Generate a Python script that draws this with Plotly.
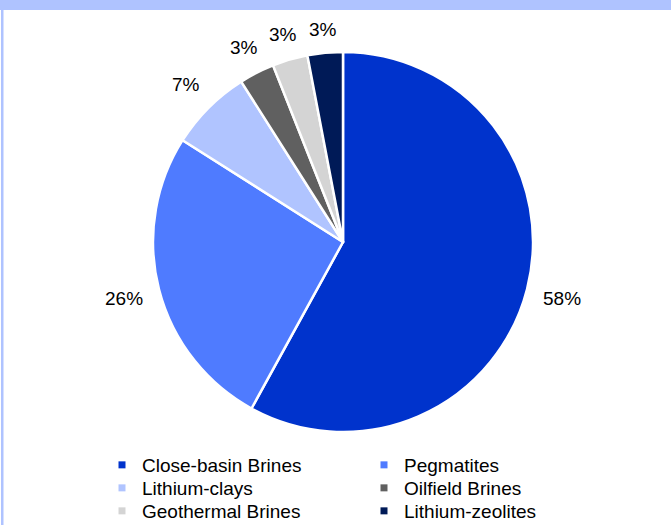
import math
import plotly.graph_objects as go

# Lithium resource split by deposit type
categories = ["Close-basin Brines", "Pegmatites", "Lithium-clays",
              "Oilfield Brines", "Geothermal Brines", "Lithium-zeolites"]
shares = [58, 26, 7, 3, 3, 3]
colors = ["#0033CC", "#4F7BFF", "#B0C4FF", "#606060", "#D4D4D4", "#001A57"]

W, H = 671, 525
FONT = "Liberation Sans, Arial, sans-serif"

# pie placement (paper fractions)
dom_x = [153 / W, 533 / W]
dom_y = [1 - 432 / H, 1 - 52 / H]

fig = go.Figure()

fig.add_trace(go.Pie(
    labels=categories,
    values=shares,
    sort=False,
    direction="clockwise",
    rotation=0,
    marker=dict(colors=colors, line=dict(color="white", width=2.5)),
    textinfo="none",
    showlegend=False,
    domain=dict(x=dom_x, y=dom_y),
    hoverinfo="label+percent",
))

# Percent labels placed radially outside each slice at its mid-angle
cx = (dom_x[0] + dom_x[1]) / 2 * W
cy = (1 - (dom_y[0] + dom_y[1]) / 2) * H
radius = min((dom_x[1] - dom_x[0]) * W, (dom_y[1] - dom_y[0]) * H) / 2
total = sum(shares)
cum = 0.0
annotations = []
for v in shares:
    mid = (cum + v / 2) / total * 2 * math.pi
    cum += v
    s, c = math.sin(mid), math.cos(mid)
    d = radius + 22 + 15 * abs(s)
    annotations.append(dict(
        x=(cx + d * s) / W, y=1 - (cy - d * c) / H,
        xref="paper", yref="paper", xanchor="center", yanchor="middle",
        text=f"{round(100 * v / total)}%", showarrow=False,
        font=dict(family=FONT, size=19, color="black"),
    ))

# Legend entries with small square swatches, two per row
legend_rows = ["legend", "legend2", "legend3"]
for i, (name, col) in enumerate(zip(categories, colors)):
    fig.add_trace(go.Scatter(
        x=[None], y=[None], mode="markers", name=name,
        marker=dict(symbol="square", size=7, color=col),
        legend=legend_rows[i // 2],
    ))

row_centers = [465, 488, 511]
legend_style = dict(
    orientation="h",
    x=(122 - 20) / W, xanchor="left", yanchor="middle",
    entrywidth=217, entrywidthmode="pixels",
    font=dict(family=FONT, size=19, color="black"),
    bgcolor="rgba(0,0,0,0)",
    traceorder="normal",
    itemclick=False, itemdoubleclick=False,
)

fig.update_layout(
    width=W, height=H,
    margin=dict(l=0, r=0, t=0, b=0, autoexpand=False),
    paper_bgcolor="white",
    plot_bgcolor="white",
    xaxis=dict(visible=False),
    yaxis=dict(visible=False),
    legend=dict(legend_style, y=1 - row_centers[0] / H),
    legend2=dict(legend_style, y=1 - row_centers[1] / H),
    legend3=dict(legend_style, y=1 - row_centers[2] / H),
    annotations=annotations,
    shapes=[
        # header band
        dict(type="rect", xref="paper", yref="paper",
             x0=0, x1=1, y0=1 - 10 / H, y1=1,
             fillcolor="#AFC3FF", line=dict(width=0), layer="above"),
        # left frame edge
        dict(type="rect", xref="paper", yref="paper",
             x0=1 / W, x1=3.5 / W, y0=0, y1=1,
             fillcolor="#AFC3FF", line=dict(width=0), layer="above"),
    ],
)

fig.write_html("out.html")
